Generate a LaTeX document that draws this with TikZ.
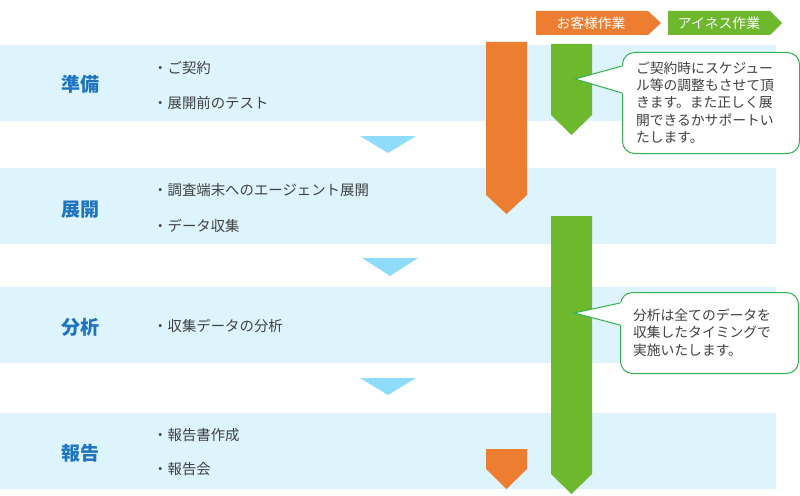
\documentclass[tikz,border=0pt]{standalone}
\usepackage{fontspec}
\setmainfont{Noto Sans CJK JP}
\definecolor{bandblue}{HTML}{DDF4FC}
\definecolor{triblue}{HTML}{8EDCF9}
\definecolor{worange}{HTML}{ED7D31}
\definecolor{wgreen}{HTML}{6DB82C}
\definecolor{cgreen}{HTML}{33B14F}
\definecolor{titleblue}{HTML}{1F74BF}
\definecolor{itemgray}{HTML}{404040}
\begin{document}
\begin{tikzpicture}[x=1pt,y=-1pt,
  band/.style={fill=bandblue,draw=none,anchor=north west,minimum width=776pt,minimum height=76pt,inner sep=0pt},
  tri/.style={fill=triblue,draw=none},
  phase/.style={font=\fontsize{19}{22}\selectfont\bfseries,text=titleblue,inner sep=0pt},
  item/.style={font=\fontsize{14.4}{17}\selectfont,text=itemgray,anchor=west,inner sep=0pt},
  oarrow/.style={fill=worange,draw=none},
  garrow/.style={fill=wgreen,draw=none},
  legtext/.style={font=\fontsize{13.8}{16}\selectfont,text=white,inner sep=0pt},
  callbox/.style={draw=cgreen,line width=1pt,fill=white,rounded corners=12pt,anchor=north west,inner sep=0pt},
  calltext/.style={font=\fontsize{13.8}{17.2}\selectfont,text=itemgray,align=left,inner sep=0pt}
]
\useasboundingbox (0,0) rectangle (800,495);
% bands
\node[band] (b1) at (0,45) {};
\node[band] (b2) at (0,168) {};
\node[band] (b3) at (0,287) {};
\node[band] (b4) at (0,413) {};
% triangles between bands
\fill[tri] (360,136) -- (416,136) -- (388,153) -- cycle;
\fill[tri] (362,258) -- (418,258) -- (390,276) -- cycle;
\fill[tri] (360,378) -- (416,378) -- (388,395) -- cycle;
% phase titles
\node[phase] (p1) at (80,84) {準備};
\node[phase] (p2) at (80,210) {展開};
\node[phase] (p3) at (80,327) {分析};
\node[phase] (p4) at (80,453) {報告};
% items
\node[item] (i11) at (153,68) {・ご契約};
\node[item] (i12) at (153,103) {・展開前のテスト};
\node[item] (i21) at (153,190) {・調査端末へのエージェント展開};
\node[item] (i22) at (153,226) {・データ収集};
\node[item] (i31) at (153,326) {・収集データの分析};
\node[item] (i41) at (153,435) {・報告書作成};
\node[item] (i42) at (153,469) {・報告会};
% legend
\fill[oarrow] (536,11) -- (648,11) -- (661,23) -- (648,35) -- (536,35) -- cycle;
\node[legtext] (lo) at (591,23) {お客様作業};
\fill[garrow] (668,11) -- (770,11) -- (782,23) -- (770,35) -- (668,35) -- cycle;
\node[legtext] (lg) at (719,23) {アイネス作業};
% work arrows
\fill[oarrow] (486,42) -- (527,42) -- (527,195) -- (506.5,214) -- (486,195) -- cycle;
\fill[garrow] (551,44) -- (592,44) -- (592,115) -- (571.5,135) -- (551,115) -- cycle;
\fill[garrow] (551,216) -- (592,216) -- (592,474) -- (571.5,494) -- (551,474) -- cycle;
\fill[oarrow] (486,449) -- (527,449) -- (527,469) -- (506.5,489) -- (486,469) -- cycle;
% callout 1
\node[callbox,minimum width=177pt,minimum height=101pt] (c1) at (622,52) {};
\coordinate (c1tip) at (575,79);
\fill[white] (c1tip) -- (624,65.5) -- (624,93.5) -- cycle;
\draw[cgreen,line width=1pt] (622,66) -- (c1tip) -- (622,93);
\node[calltext] (c1t) at (705,102.5) {ご契約時にスケジュー\\ル等の調整もさせて頂\\きます。また正しく展\\開できるかサポートい\\たします。};
% callout 2
\node[callbox,minimum width=178pt,minimum height=81pt] (c2) at (620,292) {};
\coordinate (c2tip) at (574,313);
\fill[white] (c2tip) -- (622,302.5) -- (622,325.5) -- cycle;
\draw[cgreen,line width=1pt] (620,303) -- (c2tip) -- (620,325);
\node[calltext] (c2t) at (702,332.5) {分析は全てのデータを\\収集したタイミングで\\実施いたします。};
\end{tikzpicture}
\end{document}
